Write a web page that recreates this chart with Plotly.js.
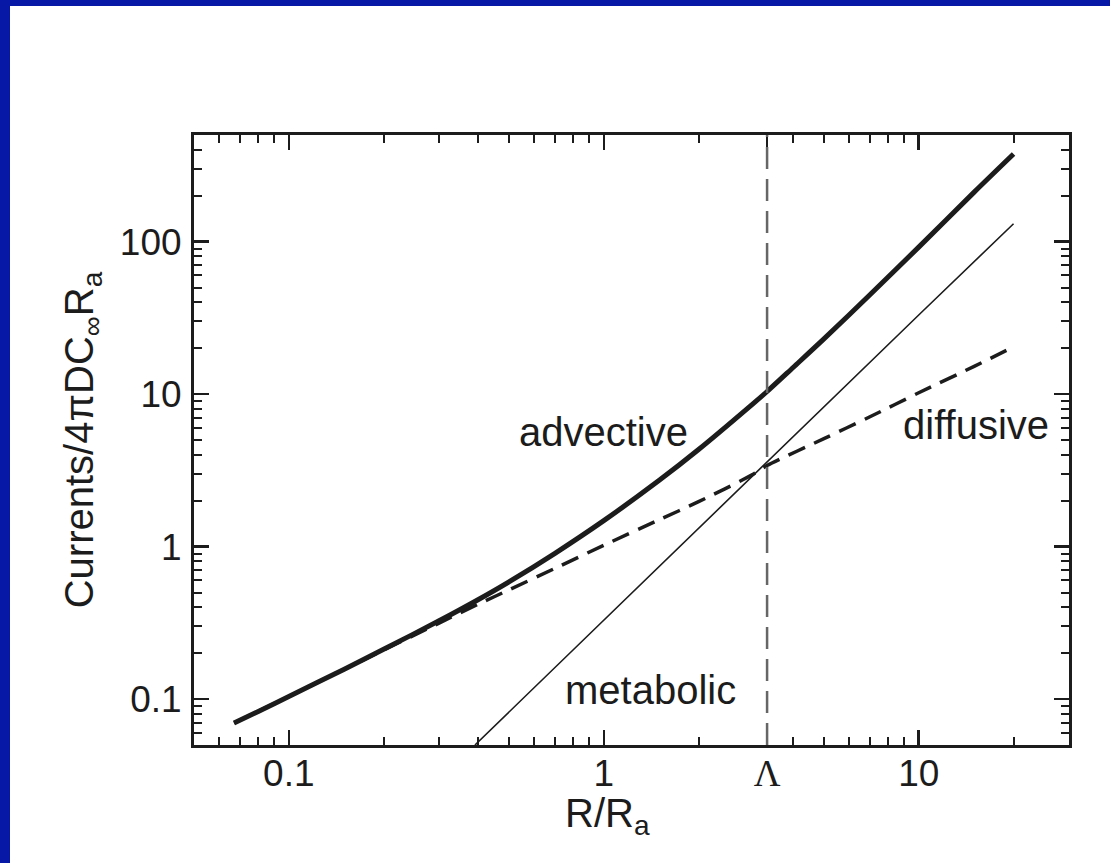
<!DOCTYPE html>
<html>
<head>
<meta charset="utf-8">
<script src="https://cdn.plot.ly/plotly-3.0.1.min.js"></script>
<style>
  html, body { margin: 0; padding: 0; background: #0818a6; width: 1110px; height: 863px; overflow: hidden; }
  #chart { position: absolute; left: 10px; top: 6px; width: 1100px; height: 857px; background: #fff; }
</style>
</head>
<body>
<div id="chart"></div>
<script>
// ---- data ----
const advR   = [0.067, 0.08, 0.1, 0.15, 0.2, 0.3, 0.4, 0.5, 0.7, 1, 1.5, 2, 3, 3.3, 4, 5, 7, 10, 15, 20];
const advI   = [0.0697, 0.083, 0.104, 0.157, 0.212, 0.326, 0.45, 0.587, 0.904, 1.48, 2.72, 4.33, 8.76, 10.4, 15.0, 23.0, 44.8, 92, 211, 375];
const difR   = [0.067, 0.1, 0.2, 0.3, 0.4, 0.5, 0.7, 1, 1.5, 2, 3, 3.3, 5, 7, 10, 15, 20];
const difI   = [0.0697, 0.104, 0.21, 0.315, 0.42, 0.52, 0.72, 1.02, 1.5, 1.97, 3.0, 3.4, 5.1, 7.1, 10.2, 15.2, 20.4];
const metR   = [0.39, 1, 3.3, 10, 20];
const metI   = [0.05, 0.33, 3.6, 33, 131];
const LAMBDA = 3.3;

const xTickVals = [0.1, 1, LAMBDA, 10];
const xTickText = ['0.1', '1', '<span style="font-family:Liberation Serif, Times New Roman, serif">Λ</span>', '10'];
const xMinor = [0.06, 0.07, 0.08, 0.09, 0.2, 0.3, 0.4, 0.5, 0.6, 0.7, 0.8, 0.9, 2, 4, 5, 6, 7, 8, 9, 20];
const yTickVals = [0.1, 1, 10, 100];
const yTickText = ['0.1', '1', '10', '100'];
const yMinor = [0.06, 0.07, 0.08, 0.09, 0.2, 0.3, 0.4, 0.5, 0.6, 0.7, 0.8, 0.9,
                2, 3, 4, 5, 6, 7, 8, 9, 20, 30, 40, 50, 60, 70, 80, 90, 200, 300, 400];

const labels = [
  {text: 'advective', x: 1.0,  y: 5.66},
  {text: 'metabolic', x: 1.41, y: 0.115},
  {text: 'diffusive', x: 15.2, y: 6.3}
];

const ink = '#1c1c1c';
const font = 'Liberation Sans, Arial, Helvetica, sans-serif';

const traces = [
  {x: difR, y: difI, mode: 'lines', name: 'diffusive',
   line: {color: ink, width: 3.5, dash: '18px,10px', shape: 'spline', smoothing: 0.8}},
  {x: metR, y: metI, mode: 'lines', name: 'metabolic',
   line: {color: ink, width: 1.6}},
  {x: advR, y: advI, mode: 'lines', name: 'advective',
   line: {color: ink, width: 5, shape: 'spline', smoothing: 0.8}}
];

const axisCommon = {
  type: 'log', showgrid: false, zeroline: false,
  showline: true, linecolor: ink, linewidth: 3, mirror: 'allticks',
  ticks: 'inside', ticklen: 15, tickwidth: 2.5, tickcolor: ink,
  tickfont: {family: font, size: 37, color: ink},
  tickmode: 'array'
};

const layout = {
  width: 1100, height: 857,
  margin: {l: 184, r: 41, t: 129, b: 118},
  paper_bgcolor: '#ffffff', plot_bgcolor: '#ffffff',
  showlegend: false,
  xaxis: Object.assign({}, axisCommon, {
    range: [Math.log10(0.05), Math.log10(30)],
    tickvals: xTickVals, ticktext: xTickText,
    ticklabelstandoff: -6,
    minor: {tickmode: 'array', tickvals: xMinor, ticks: 'inside', ticklen: 8, tickwidth: 2, tickcolor: ink}
  }),
  yaxis: Object.assign({}, axisCommon, {
    range: [Math.log10(0.05), Math.log10(500)],
    tickvals: yTickVals, ticktext: yTickText,
    ticklabelstandoff: 2,
    minor: {tickmode: 'array', tickvals: yMinor, ticks: 'inside', ticklen: 8, tickwidth: 2, tickcolor: ink},
    title: {text: 'Currents/4πDC<sub>∞</sub>R<sub>a</sub>', standoff: 14,
            font: {family: font, size: 40, color: ink}}
  }),
  shapes: [
    {type: 'line', xref: 'x', yref: 'paper', x0: LAMBDA, x1: LAMBDA, y0: 0, y1: 1,
     line: {color: '#666', width: 2.5, dash: '22px,10px'}}
  ],
  annotations: labels.map(l => ({
    text: l.text, x: Math.log10(l.x), y: Math.log10(l.y), xref: 'x', yref: 'y',
    showarrow: false, xanchor: 'center', yanchor: 'middle',
    font: {family: font, size: 40, color: ink}
  })).concat([
    {text: 'R/R<sub>a</sub>', xref: 'paper', yref: 'paper', x: 0.473, y: -0.072,
     xanchor: 'center', yanchor: 'top', showarrow: false,
     font: {family: font, size: 40, color: ink}}
  ])
};

Plotly.newPlot('chart', traces, layout, {staticPlot: true, displayModeBar: false});
</script>
</body>
</html>
